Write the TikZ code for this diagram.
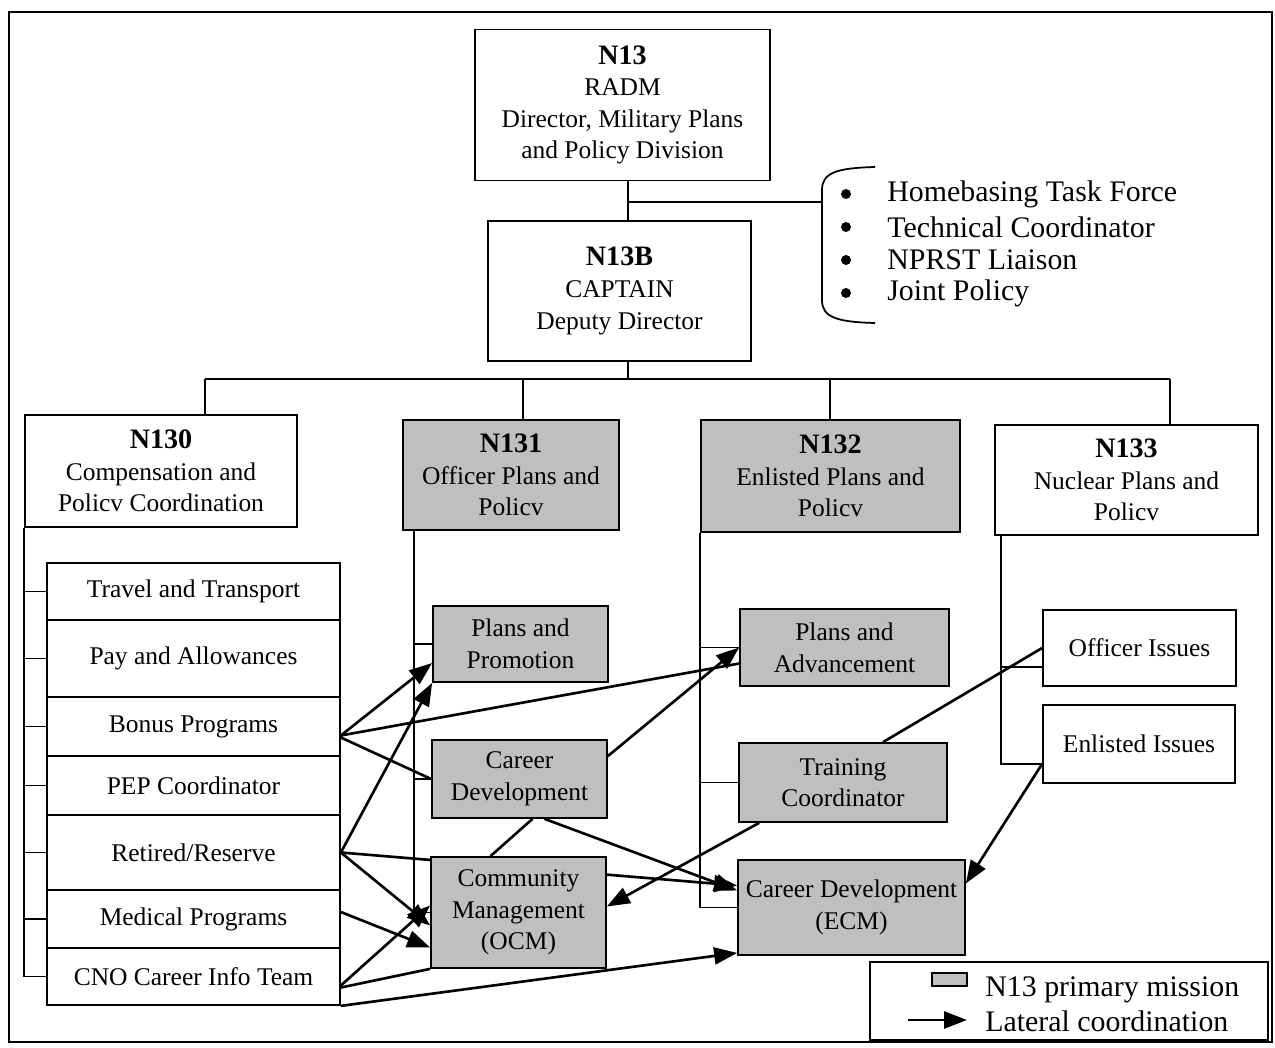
\documentclass[tikz,border=0pt]{standalone}
\usepackage{fontspec}
\setmainfont{Liberation Serif}
\usetikzlibrary{positioning, arrows.meta, calc, backgrounds}

\newcommand{\orgcode}[1]{{\fontsize{16}{18}\selectfont\bfseries #1}}

\begin{document}
\begin{tikzpicture}[
	x=0.02cm, y=-0.02cm,
	box/.style={draw, line width=1pt, inner sep=0pt, fill=white, align=center,
		font=\fontsize{14.5}{18}\selectfont},
	mission/.style={box, fill=black!25},
	listtext/.style={inner sep=0pt, anchor=west, font=\fontsize{17}{19}\selectfont},
	dot/.style={circle, fill, inner sep=0pt, minimum size=0.2cm},
	tree/.style={line width=0.8pt},
	lateral/.style={line width=1.5pt},
	lateralarrow/.style={lateral, -{Triangle[length=0.46cm, width=0.34cm]}}
	]
	\useasboundingbox (0,0) rectangle (1275,1048);
	\draw[line width=1pt] (9,12) rectangle (1272,1042);

	% director and deputy
	\node[box, minimum width=5.9cm, minimum height=3.02cm] (n13) at (622.5,105)
	{\orgcode{N13}\\RADM\\Director, Military Plans\\and Policy Division};
	\node[box, minimum width=5.26cm, minimum height=2.8cm] (n13b) at (619.5,291)
	{\orgcode{N13B}\\CAPTAIN\\Deputy Director};

	% staff list
	\draw[line width=1pt] (875,167) .. controls (836,168) and (822,173) .. (822,190)
		-- (822,300) .. controls (822,317) and (836,322) .. (875,323);
	\foreach \txt [count=\i] in {Homebasing Task Force, Technical Coordinator, NPRST Liaison, Joint Policy}{
		\node[dot] (bullet\i) at (846,{161+33*\i}) {};
		\node[listtext] (item\i) at (887,{161+33*\i}) {\txt};
	}

	% branches
	\node[box, minimum width=5.44cm, minimum height=2.24cm] (n130) at (161,471)
	{\orgcode{N130}\\Compensation and\\Policv Coordination};
	\node[mission, minimum width=4.32cm, minimum height=2.2cm] (n131) at (511,475)
	{\orgcode{N131}\\Officer Plans and\\Policv};
	\node[mission, minimum width=5.18cm, minimum height=2.24cm] (n132) at (830.5,476)
	{\orgcode{N132}\\Enlisted Plans and\\Policv};
	\node[box, minimum width=5.26cm, minimum height=2.2cm] (n133) at (1126.5,480)
	{\orgcode{N133}\\Nuclear Plans and\\Policv};

	% N130 offices
	\foreach \name/\top/\bot/\txt in {trav/563/620/{Travel and Transport},
		pay/620/697/{Pay and Allowances}, bonus/697/756/{Bonus Programs},
		pep/756/815/{PEP Coordinator}, retired/815/890/{Retired/Reserve},
		medical/890/948/{Medical Programs}, cno/948/1005/{CNO Career Info Team}}
		\node[box, minimum width=5.86cm, minimum height={(\bot-\top)*0.02cm}] (\name)
		at (193.5,{(\top+\bot)/2}) {\txt};

	% N131 offices
	\node[mission, minimum width=3.5cm, minimum height=1.52cm] (pp) at (520.5,644) {Plans and\\Promotion};
	\node[mission, minimum width=3.5cm, minimum height=1.56cm] (cd) at (519.5,779) {Career\\Development};
	\node[mission, minimum width=3.5cm, minimum height=2.22cm] (ocm) at (518.5,912.5) {Community\\Management\\(OCM)};

	% N132 offices
	\node[mission, minimum width=4.18cm, minimum height=1.54cm] (pa) at (844.5,647.5) {Plans and\\Advancement};
	\node[mission, minimum width=4.16cm, minimum height=1.58cm] (tc) at (843,782.5) {Training\\Coordinator};
	\node[mission, minimum width=4.54cm, minimum height=1.9cm] (ecm) at (851.5,907.5) {Career Development\\(ECM)};

	% N133 offices
	\node[box, minimum width=3.86cm, minimum height=1.52cm] (offi) at (1139.5,648) {Officer Issues};
	\node[box, minimum width=3.84cm, minimum height=1.56cm] (enli) at (1139,744) {Enlisted Issues};

	% legend
	\node[box, minimum width=7.96cm, minimum height=1.56cm] (legend) at (1069,1001) {};
	\node[mission, line width=0.8pt, minimum width=0.7cm, minimum height=0.26cm] (swatch) at (949.5,979.5) {};
	\node[listtext] (missiontxt) at (985,990) {N13 primary mission};
	\node[listtext] (lateraltxt) at (985,1021) {Lateral coordination};
	\coordinate (legendtail) at (908,1020);
	\coordinate (legendtip) at (967,1020);
	\draw[lateralarrow] (legendtail) -- (legendtip);

	\begin{scope}[on background layer]
		\fill[white] (0,0) rectangle (1275,1048);
		% chain of command
		\coordinate (spine) at (628,202);
		\coordinate (bracejoin) at (822,202);
		\coordinate (bus) at (628,379);
		\draw[tree] (n13.south -| spine) -- (n13b.north -| spine);
		\draw[tree] (spine) -- (bracejoin);
		\draw[tree] (n13b.south -| bus) -- (bus);
		\draw[tree] (205,379) -- (1170,379);
		\foreach \n/\x in {n130/205, n131/523, n132/830, n133/1170}{
			\coordinate (d\n) at (\x,379);
			\draw[tree] (d\n) -- (d\n |- \n.north);
		}
		\draw[tree] (n130.south west) |- (cno.west);
		\foreach \s in {trav, pay, bonus, pep, retired, medical}
			\draw[tree] (n130.south west |- \s.west) -- (\s.west);
		\coordinate (t131) at ($(n131.south west)+(12,0)$);
		\draw[tree] (t131) |- (ocm.west);
		\foreach \s in {pp, cd}
			\draw[tree] (t131 |- \s.west) -- (\s.west);
		\draw[tree] (n132.south west) |- (ecm.west);
		\foreach \s in {pa, tc}
			\draw[tree] (n132.south west |- \s.west) -- (\s.west);
		\coordinate (t133) at ($(n133.south west)+(7,0)$);
		\coordinate (offistub) at ($(offi.south west)+(0,-20)$);
		\coordinate (enlistub) at ($(enli.south west)+(0,-20)$);
		\draw[tree] (t133) |- (enlistub);
		\draw[tree] (t133 |- offistub) -- (offistub);

		% lateral coordination
		\draw[lateralarrow] ($(bonus.east)+(0,9)$) -- ($(pp.west)+(0,19)$);
		\draw[lateral] ($(bonus.east)+(0,9)$) -- ($(pa.west)+(0,16)$);
		\draw[lateral] ($(bonus.east)+(0,11)$) -- (cd.west);
		\draw[lateralarrow] (retired.east) -- (pp.south west);
		\draw[lateralarrow] (retired.east) -- ($(ecm.west)+(0,-22)$);
		\draw[lateralarrow] (retired.east) -- ($(ocm.west)+(0,13)$);
		\draw[lateralarrow] ($(medical.east)+(0,-7)$) -- ($(ocm.west)+(0,35)$);
		\draw[lateralarrow] ($(cno.east)+(0,9)$) -- ($(ocm.west)+(0,-7)$);
		\draw[lateral] ($(cno.east)+(0,11)$) -- (ocm.south west);
		\draw[lateralarrow] (cno.south east) -- ($(ecm.south west)+(0,-3)$);
		\draw[lateralarrow] ($(cd.north east)+(0,17)$) -- (pa.west);
		\draw[lateral] ($(cd.south)+(13,0)$) -- ($(ocm.north)+(-28,0)$);
		\draw[lateralarrow] ($(cd.south)+(25,0)$) -- ($(ecm.west)+(0,-17)$);
		\draw[lateralarrow] ($(tc.south west)+(21,0)$) -- ($(ocm.east)+(0,-6)$);
		\draw[lateral] ($(tc.north)+(40,0)$) -- (offi.west);
		\draw[lateralarrow] (enlistub) -- ($(ecm.east)+(0,-24)$);
	\end{scope}
\end{tikzpicture}
\end{document}
